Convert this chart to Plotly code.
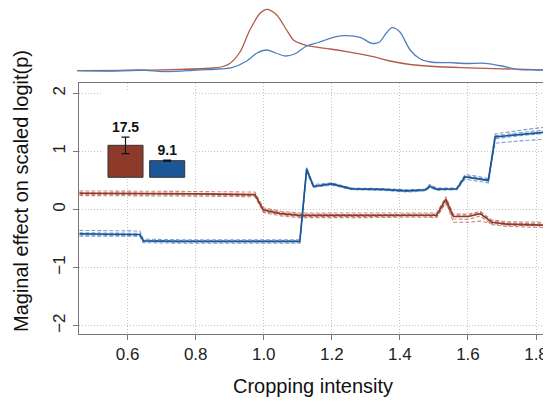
import plotly.graph_objects as go

# ---------------- data ----------------
# main effect curves (blue)
blue_x = [0.458, 0.55, 0.636, 0.646, 0.75, 0.9, 1.0, 1.106, 1.126, 1.146, 1.2, 1.258,
          1.35, 1.42, 1.475, 1.488, 1.508, 1.567, 1.591, 1.62, 1.66, 1.68, 1.75, 1.8285]
blue_y = [-0.42, -0.43, -0.43, -0.54, -0.55, -0.55, -0.55, -0.55, 0.70, 0.40, 0.44, 0.355,
          0.345, 0.32, 0.34, 0.40, 0.35, 0.355, 0.56, 0.54, 0.50, 1.25, 1.29, 1.33]
blue_rep1 = [-0.36, -0.37, -0.37, -0.51, -0.52, -0.52, -0.52, -0.52, 0.66, 0.43, 0.46, 0.37,
             0.36, 0.34, 0.35, 0.43, 0.37, 0.37, 0.60, 0.58, 0.53, 1.30, 1.36, 1.42]
blue_rep2 = [-0.46, -0.46, -0.46, -0.57, -0.58, -0.58, -0.58, -0.58, 0.64, 0.38, 0.42, 0.34,
             0.33, 0.30, 0.32, 0.38, 0.33, 0.34, 0.52, 0.50, 0.46, 1.22, 1.27, 1.31]
blue_rep3 = [-0.40, -0.41, -0.41, -0.55, -0.56, -0.56, -0.56, -0.56, 0.68, 0.41, 0.43, 0.35,
             0.34, 0.31, 0.33, 0.41, 0.36, 0.35, 0.57, 0.55, 0.49, 1.14, 1.18, 1.21]
blue_rep4 = [-0.44, -0.45, -0.45, -0.53, -0.54, -0.54, -0.54, -0.54, 0.72, 0.39, 0.45, 0.36,
             0.35, 0.33, 0.34, 0.39, 0.34, 0.36, 0.58, 0.56, 0.51, 1.27, 1.32, 1.37]

# main effect curves (red)
red_x = [0.458, 0.6, 0.8, 0.974, 0.999, 1.05, 1.106, 1.3, 1.45, 1.508, 1.535, 1.557,
         1.601, 1.636, 1.67, 1.714, 1.8285]
red_y = [0.28, 0.28, 0.27, 0.255, -0.01, -0.07, -0.10, -0.10, -0.095, -0.098, 0.18, -0.12,
         -0.12, -0.07, -0.22, -0.25, -0.27]
red_rep1 = [0.32, 0.32, 0.31, 0.30, 0.03, -0.03, -0.06, -0.06, -0.06, -0.06, 0.22, -0.08,
            -0.08, -0.03, -0.18, -0.21, -0.22]
red_rep2 = [0.24, 0.24, 0.23, 0.22, -0.05, -0.11, -0.14, -0.14, -0.13, -0.14, 0.12, -0.16,
            -0.17, -0.11, -0.26, -0.29, -0.31]
red_rep3 = [0.29, 0.29, 0.28, 0.26, -0.03, -0.09, -0.12, -0.12, -0.11, -0.12, 0.14, -0.22,
            -0.22, -0.20, -0.24, -0.27, -0.28]
red_rep4 = [0.26, 0.26, 0.25, 0.24, 0.01, -0.05, -0.08, -0.09, -0.08, -0.08, 0.10, -0.10,
            -0.10, -0.05, -0.20, -0.23, -0.25]

# density curves (top panel)
dens_red_x = [0.451, 0.60, 0.75, 0.85, 0.88, 0.90, 0.93, 0.959, 0.989, 1.009, 1.038, 1.067,
              1.087, 1.115, 1.145, 1.195, 1.244, 1.321, 1.371, 1.43, 1.50, 1.60, 1.70, 1.841]
dens_red_y = [1.0, 1.2, 2.2, 3.7, 5.2, 8.2, 19.7, 41.7, 58.4, 62.4, 56.7, 41.7,
              31.7, 27.4, 25.0, 22.7, 20.0, 15.0, 10.7, 7.2, 5.2, 3.9, 2.9, 1.7]
dens_blue_x = [0.451, 0.55, 0.637, 0.72, 0.803, 0.87, 0.906, 0.95, 0.98, 1.008, 1.035, 1.062,
               1.09, 1.126, 1.16, 1.195, 1.233, 1.283, 1.317, 1.34, 1.36, 1.377, 1.40, 1.43,
               1.46, 1.49, 1.547, 1.60, 1.65, 1.70, 1.743, 1.80, 1.841]
dens_blue_y = [1.0, 0.7, 1.7, 0.0, 1.7, 2.7, 4.0, 10.7, 18.7, 21.7, 18.7, 15.7,
               17.7, 25.7, 29.2, 33.4, 36.0, 34.4, 28.4, 29.7, 38.7, 44.0, 39.7, 21.7,
               12.7, 9.7, 9.0, 8.2, 8.4, 5.7, 2.4, 1.7, 1.7]

# inset bars
bar_pos = [1, 2]
bar_vals = [17.5, 9.1]
bar_errs = [4.5, 0.3]
bar_labels = ["17.5", "9.1"]

x_ticks = [0.6, 0.8, 1.0, 1.2, 1.4, 1.6, 1.8]
y_ticks = [-2, -1, 0, 1, 2]

# ---------------- styling / layout ----------------
RED = "#8e3a2b"
RED_L = "#b9604f"
BLUE = "#1c5697"
BLUE_L = "#4b80c0"
RED_D = "#b25b49"
BLUE_D = "#4f7fbd"
FONT = "Liberation Sans"

# the page body offsets the figure by 8 px; all pixel constants below are
# given in screenshot pixels and converted with OFF
OFF = 8
W, H = 543, 396
ML, MR, MT, MB = 69, 1, 0, 70
PW, PH = W - ML - MR, H - MT - MB


def px_x(px):
    return (px - OFF - ML) / PW


def px_y(py):
    return (H - MB - (py - OFF)) / PH


fig = go.Figure()

# replicates (dashed)
for rep in [red_rep1, red_rep2, red_rep3, red_rep4]:
    fig.add_trace(go.Scatter(x=red_x, y=rep, mode="lines",
                             line=dict(color=RED_L, width=1.1, dash="4px,2px"),
                             opacity=0.75, xaxis="x", yaxis="y", showlegend=False))
for rep in [blue_rep1, blue_rep2, blue_rep3, blue_rep4]:
    fig.add_trace(go.Scatter(x=blue_x, y=rep, mode="lines",
                             line=dict(color=BLUE_L, width=1.1, dash="4px,2px"),
                             opacity=0.75, xaxis="x", yaxis="y", showlegend=False))
fig.add_trace(go.Scatter(x=red_x, y=red_y, mode="lines",
                         line=dict(color=RED, width=1.7),
                         xaxis="x", yaxis="y", showlegend=False))
fig.add_trace(go.Scatter(x=blue_x, y=blue_y, mode="lines",
                         line=dict(color=BLUE, width=1.7),
                         xaxis="x", yaxis="y", showlegend=False))

# density panel
fig.add_trace(go.Scatter(x=dens_red_x, y=dens_red_y, mode="lines",
                         line=dict(color=RED_D, width=1.3, shape="spline", smoothing=0.8),
                         xaxis="x2", yaxis="y2", showlegend=False))
fig.add_trace(go.Scatter(x=dens_blue_x, y=dens_blue_y, mode="lines",
                         line=dict(color=BLUE_D, width=1.3, shape="spline", smoothing=0.8),
                         xaxis="x2", yaxis="y2", showlegend=False))

# inset bars
fig.add_trace(go.Bar(x=bar_pos, y=bar_vals, width=0.84,
                     marker=dict(color=[RED, BLUE], line=dict(color="#333333", width=1)),
                     error_y=dict(type="data", array=bar_errs, color="#111111",
                                  thickness=1.2, width=4),
                     xaxis="x3", yaxis="y3", showlegend=False))
fig.add_trace(go.Scatter(x=bar_pos, y=[v + e + 4.8 for v, e in zip(bar_vals, bar_errs)],
                         text=["<b>%s</b>" % t for t in bar_labels], mode="text",
                         textfont=dict(family=FONT, size=14, color="#111111"),
                         textposition="middle center",
                         xaxis="x3", yaxis="y3", showlegend=False))

# main axis geometry (screenshot pixels)
X0PX, X1PX = 79.3, 545.7
Y0PX, Y1PX = 83.3, 333.5
XR = [0.458, 1.8285]
YR = [-2.134, 2.172]

# inset box (screenshot pixels)
IB_X0, IB_X1, IB_Y0, IB_Y1 = 103, 193, 91, 179


def data_x(px):
    return XR[0] + (px - X0PX) / (X1PX - X0PX) * (XR[1] - XR[0])


def data_y(py):
    return YR[1] - (py - Y0PX) / (Y1PX - Y0PX) * (YR[1] - YR[0])


axis_common = dict(showline=True, mirror=True, linecolor="#777777", linewidth=1.3,
                   ticks="outside", ticklen=5, tickcolor="#777777", tickwidth=1,
                   showgrid=True, gridcolor="#c4c4c4", griddash="1px,2px", gridwidth=1,
                   zeroline=False,
                   tickfont=dict(family=FONT, size=17, color="#222222"))

fig.update_layout(
    width=W, height=H,
    margin=dict(l=ML, r=MR, t=MT, b=MB, pad=0),
    paper_bgcolor="white", plot_bgcolor="white",
    xaxis=dict(domain=[px_x(X0PX), px_x(X1PX)], range=XR, tickvals=x_ticks,
               tickformat=".1f", anchor="y", ticklabelstandoff=0, **axis_common),
    yaxis=dict(domain=[px_y(Y1PX), px_y(Y0PX)], range=YR, tickvals=y_ticks,
               tickangle=-90, anchor="x", ticklabelstandoff=1, **axis_common),
    xaxis2=dict(domain=[px_x(77), px_x(550)], range=[0.451, 1.841], visible=False,
                anchor="y2"),
    yaxis2=dict(domain=[px_y(72.7), 1.0], range=[-1, 63.7], visible=False, anchor="x2"),
    xaxis3=dict(domain=[px_x(IB_X0), px_x(IB_X1)], range=[0.4604, 2.619], visible=False,
                anchor="y3"),
    yaxis3=dict(domain=[px_y(IB_Y1), px_y(IB_Y0)], range=[-0.93, 47.2], visible=False,
                anchor="x3"),
    shapes=[dict(type="rect", xref="x", yref="y", layer="between",
                 x0=data_x(IB_X0), x1=data_x(IB_X1), y0=data_y(IB_Y1), y1=data_y(IB_Y0),
                 fillcolor="white", line=dict(width=0))],
    annotations=[
        dict(text="Maginal effect on scaled logit(p)", xref="paper", yref="paper",
             x=px_x(21), y=px_y(191), xanchor="center", yanchor="middle",
             textangle=-90, showarrow=False,
             font=dict(family=FONT, size=20, color="#111111")),
        dict(text="Cropping intensity", xref="paper", yref="paper",
             x=px_x(313), y=px_y(386), xanchor="center", yanchor="middle",
             showarrow=False, font=dict(family=FONT, size=20, color="#111111")),
    ],
)

fig.write_html("out.html")
